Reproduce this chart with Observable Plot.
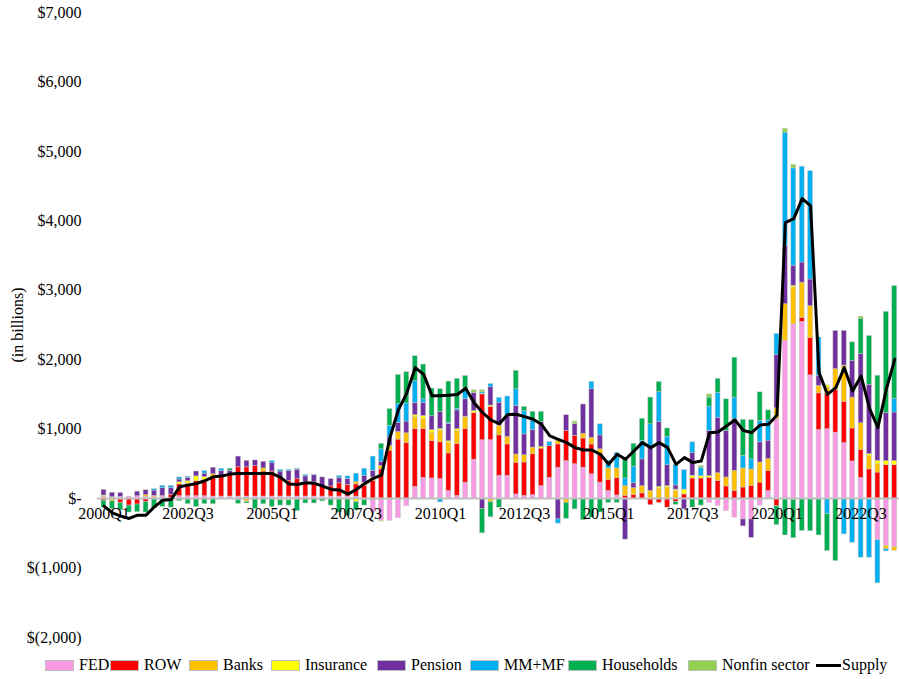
<!DOCTYPE html>
<html><head><meta charset="utf-8">
<script src="https://cdn.jsdelivr.net/npm/d3@7"></script>
<script src="https://cdn.jsdelivr.net/npm/@observablehq/plot@0.6"></script>
<style>
body{margin:0;background:#fff;font-family:"Liberation Serif","Times New Roman",serif;}
#chart{width:899px;height:650px;}
#legend{position:relative;width:899px;height:29px;font-size:16px;color:#000;}
#legend .it{position:absolute;top:6px;white-space:nowrap;line-height:18px;}
#legend .sw{display:inline-block;width:27px;height:9px;border:0.5px solid #bfbfbf;vertical-align:middle;margin-right:5px;position:relative;top:-1px;}
#legend .ln{display:inline-block;width:25px;height:3px;background:#000;vertical-align:middle;margin-right:1px;position:relative;top:-1px;}
</style></head><body><div id="chart"></div><div id="legend"></div>
<script>
const quarters = ["2000Q1","2000Q2","2000Q3","2000Q4","2001Q1","2001Q2","2001Q3","2001Q4","2002Q1","2002Q2","2002Q3","2002Q4","2003Q1","2003Q2","2003Q3","2003Q4","2004Q1","2004Q2","2004Q3","2004Q4","2005Q1","2005Q2","2005Q3","2005Q4","2006Q1","2006Q2","2006Q3","2006Q4","2007Q1","2007Q2","2007Q3","2007Q4","2008Q1","2008Q2","2008Q3","2008Q4","2009Q1","2009Q2","2009Q3","2009Q4","2010Q1","2010Q2","2010Q3","2010Q4","2011Q1","2011Q2","2011Q3","2011Q4","2012Q1","2012Q2","2012Q3","2012Q4","2013Q1","2013Q2","2013Q3","2013Q4","2014Q1","2014Q2","2014Q3","2014Q4","2015Q1","2015Q2","2015Q3","2015Q4","2016Q1","2016Q2","2016Q3","2016Q4","2017Q1","2017Q2","2017Q3","2017Q4","2018Q1","2018Q2","2018Q3","2018Q4","2019Q1","2019Q2","2019Q3","2019Q4","2020Q1","2020Q2","2020Q3","2020Q4","2021Q1","2021Q2","2021Q3","2021Q4","2022Q1","2022Q2","2022Q3","2022Q4","2023Q1","2023Q2","2023Q3"];

const xTickLabels = ["2000Q1","2002Q3","2005Q1","2007Q3","2010Q1","2012Q3","2015Q1","2017Q3","2020Q1","2022Q3"];
const yTicks = [-2000,-1000,0,1000,2000,3000,4000,5000,6000,7000];

const FED = [20,10,25,25,35,25,20,30,10,35, 35,35,35,30,30,30,30,30,30,30, 30,30,30,30,30,30,30,30,30,30, 30,0,-200,-320,-320,-280,-110,170,300,290, 280,110,40,230,560,840,840,330,330,60, 40,50,180,300,445,540,495,445,350,230, 110,45,0,0,0,0,0,0,0,0, 0,0,-60,-105,-180,-275,-300,-300,-100,110, 1150,2270,2510,2545,1775,990,1000,950,800,535, 300,0,-600,-680,-700];
const ROW = [-30,0,-60,-100,-85,-50,0,10,45,170, 170,215,215,285,300,320,420,420,440,360, 360,265,225,250,210,210,155,145,190,165, 175,180,255,420,690,850,800,830,700,540, 530,540,745,770,670,660,480,580,450,455, 480,590,540,455,335,430,410,420,430,395, 160,250,40,50,75,-95,-60,-130,-50,60, 290,290,300,255,175,110,160,180,230,290, -110,0,-20,60,540,525,500,615,595,475, 400,420,375,480,480];
const Banks = [15,-40,0,0,0,25,20,0,0,0, 15,0,0,35,0,0,0,-50,0,45, 0,0,-25,0,0,0,0,0,0,0, 35,50,50,50,70,110,140,170,145,115, 170,150,190,170,0,0,-50,140,110,120, 105,95,0,0,50,-60,0,70,95,85, 165,140,140,100,105,110,145,160,110,0, 0,0,0,110,130,290,275,240,290,170, 150,530,530,505,455,110,100,300,520,445, 385,190,120,-50,-50];
const Insurance = [10,10,0,0,0,0,0,0,0,30, 30,70,60,0,0,0,0,0,0,0, 0,-25,0,0,0,0,0,0,0,0, -50,-20,0,-10,0,0,0,30,45,40, 25,25,25,10,30,10,20,0,0,0, 0,0,25,0,0,0,0,0,0,0, 0,0,0,0,0,0,25,20,20,70, 40,35,25,0,0,0,0,0,0,0, 0,0,25,0,0,0,30,0,0,0, 0,30,50,60,60];
const Pension = [80,65,55,0,65,70,75,110,95,40, 50,70,50,95,65,50,155,95,80,95, 120,95,140,135,80,95,120,105,80,85, 0,95,95,60,120,130,170,180,190,200, 240,250,270,250,260,-150,265,330,300,700, 300,255,360,0,-300,230,170,420,700,200, 0,0,-590,70,385,650,935,300,60,-155, 325,0,650,800,670,745,-100,-265,290,265, 770,840,290,290,385,145,0,550,500,530, 995,1000,480,690,700];
const MMMF = [0,0,0,0,0,0,20,35,35,30, 15,0,35,0,35,0,-25,0,0,0, 30,25,20,15,20,10,0,0,25,40, 120,105,205,180,170,270,260,310,50,0, -55,20,25,165,0,20,45,70,280,240, 335,130,0,60,-60,0,0,0,105,160, 110,225,110,240,265,310,430,410,290,280, 155,120,350,360,0,310,180,145,310,290, 300,1630,1400,1380,1560,550,-225,0,-515,-635, -850,-850,-620,-30,200];
const Households = [-100,-110,-110,-100,-110,-150,-140,-120,-130,-35, -80,-120,-80,-80,-10,30,-50,-20,-150,-80, -120,-75,-75,-180,-70,-70,-40,-100,-200,-250, -120,-80,0,80,240,420,450,360,500,400, 330,590,430,170,0,-350,-220,-130,0,265, 60,130,145,0,0,-230,-155,-310,-275,-200, -60,-60,300,330,320,385,145,120,-40,0, -130,-100,130,200,455,575,520,565,410,145, -270,-530,-550,-465,-470,-530,-530,-900,0,265, 510,700,745,1460,1620];
const Nonfin = [0,0,0,0,0,0,0,0,0,0, 0,0,0,0,0,0,0,0,0,0, 0,0,0,0,0,0,0,0,0,0, 0,0,0,0,0,0,0,0,0,0, 0,0,0,0,40,30,0,0,0,0, 0,0,0,0,0,0,35,0,0,0, 0,0,0,0,0,0,0,0,0,0, 0,25,45,0,0,0,0,0,0,0, 0,55,50,0,0,0,0,0,0,0, 30,0,0,0,0];
const Supply = [-108,-204,-252,-286,-238,-238,-118,-22,-12,170, 194,218,257,314,324,353,362,362,362,363, 360,305,209,202,228,220,180,132,125,65, 132,216,290,338,880,1280,1520,1886,1790,1480, 1480,1490,1500,1590,1380,1240,1130,1080,1210,1214, 1180,1142,1070,902,854,806,734,700,700,638, 494,638,566,686,806,734,806,734,494,590, 518,542,950,960,1046,1133,980,950,1060,1070, 1200,3974,4032,4320,4214,1814,1502,1598,1886,1550, 1766,1300,1022,1574,2006];

const seriesNames = ["FED","ROW","Banks","Insurance","Pension","MM+MF","Households","Nonfin sector"];
const seriesValues = [FED, ROW, Banks, Insurance, Pension, MMMF, Households, Nonfin];
const seriesColors = ["#F99BE3","#FF0000","#FFC000","#FFFF00","#7030A0","#00B0F0","#00B050","#92D050"];

const table = [];
seriesNames.forEach((name, s) => {
  quarters.forEach((q, i) => table.push({q, series: name, value: seriesValues[s][i]}));
});
const supplyTable = quarters.map((q, i) => ({q, value: Supply[i]}));

const fmt = d => d === 0 ? "$-" : d < 0 ? "$(" + d3.format(",")(-d) + ")" : "$" + d3.format(",")(d);

const chart = Plot.plot({
  width: 899, height: 650,
  marginTop: 12, marginBottom: 13, marginLeft: 97, marginRight: 0,
  style: {fontFamily: "'Liberation Serif', 'Times New Roman', serif", fontSize: "16px", background: "#fff", color: "#000", overflow: "visible"},
  x: {type: "band", domain: quarters, range: [97.5, 900.2], padding: 0.42, axis: null},
  y: {domain: [-2000, 7000], ticks: yTicks, tickFormat: fmt, tickSize: 0, tickPadding: 16,
      label: "(in billions)", labelAnchor: "center", labelOffset: 86, labelArrow: "none"},
  color: {domain: seriesNames, range: seriesColors},
  marks: [
    Plot.barY(table, {x: "q", y: "value", fill: "series", stroke: "#c4c4c4", strokeWidth: 0.5}),
    Plot.ruleY([0], {stroke: "#bfbfbf", strokeWidth: 2}),
    Plot.line(supplyTable, {x: "q", y: "value", stroke: "#000", strokeWidth: 3, strokeLinejoin: "round"}),
    Plot.text(xTickLabels, {x: d => d, y: () => 0, dy: 15, textAnchor: "middle", fontSize: 16, fill: "#000"})
  ]
});
document.getElementById("chart").appendChild(chart);

const legendItems = [
  {name: "FED", left: 45}, {name: "ROW", left: 110}, {name: "Banks", left: 189},
  {name: "Insurance", left: 271}, {name: "Pension", left: 377}, {name: "MM+MF", left: 470},
  {name: "Households", left: 568}, {name: "Nonfin sector", left: 688}, {name: "Supply", left: 816}
];
const lg = document.getElementById("legend");
legendItems.forEach((it) => {
  const d = document.createElement("div");
  d.className = "it";
  d.style.left = it.left + "px";
  const idx = seriesNames.indexOf(it.name);
  const sw = document.createElement("span");
  if (idx >= 0) { sw.className = "sw"; sw.style.background = seriesColors[idx]; }
  else { sw.className = "ln"; }
  d.appendChild(sw);
  d.appendChild(document.createTextNode(it.name));
  lg.appendChild(d);
});
</script></body></html>
